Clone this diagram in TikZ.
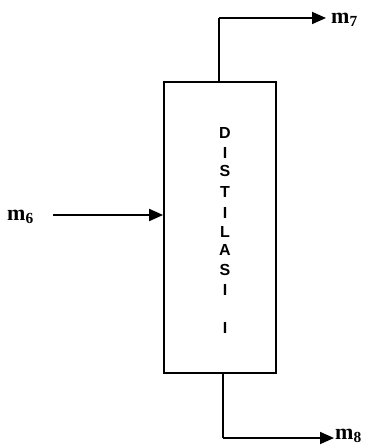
\documentclass[tikz,border=0pt]{standalone}
\usepackage{fontspec}
\setmainfont{Liberation Serif}
\setsansfont{Liberation Sans}
\usetikzlibrary{arrows.meta}
\begin{document}
\begin{tikzpicture}[x=1pt,y=-1pt,
  flow/.style={line width=1.8pt,-{Triangle[length=14pt,width=12pt]}},
  pipe/.style={line width=1.8pt},
  lbl/.style={font=\fontsize{22}{22}\selectfont\bfseries,inner sep=0pt},
  let/.style={font=\fontsize{16}{16}\selectfont\sffamily\bfseries,inner sep=0pt}]
\useasboundingbox (0,0) rectangle (371,446);
\node[draw,line width=1.8pt,minimum width=112pt,minimum height=291pt,inner sep=0pt] (col) at (220,227.5) {};
\coordinate (topout) at (219,82);
\coordinate (topbend) at (219,18);
\node[lbl,anchor=west] (m7) at (331,20) {m\textsubscript{7}};
\coordinate (botout) at (223,373);
\coordinate (botbend) at (223,438);
\node[lbl,anchor=west] (m8) at (335,436) {m\textsubscript{8}};
\node[lbl,anchor=west] (m6) at (7,217) {m\textsubscript{6}};
\coordinate (feedin) at (col.west |- 0,215);
\coordinate (feedstart) at (53,215);
\draw[pipe] (topout) -- (topbend);
\draw[flow] (topbend) -- (326,18);
\draw[pipe] (botout) -- (botbend);
\draw[flow] (botbend) -- (334,438);
\draw[flow] (feedstart) -- (feedin);
\foreach \ch/\yy [count=\i] in {D/133,I/153,S/171,T/192,I/213,L/232,A/250,S/270,I/290,I/328}
  \node[let] (t\i) at (225,\yy) {\ch};
\end{tikzpicture}
\end{document}
